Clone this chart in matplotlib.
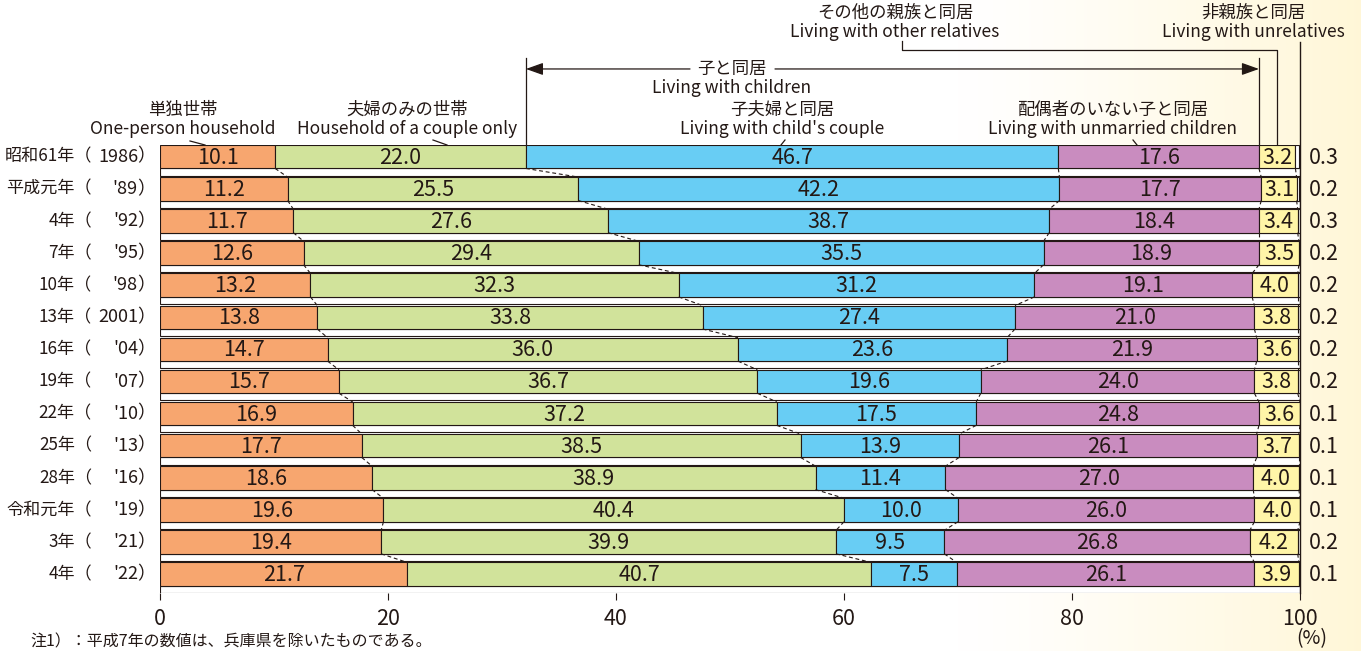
import numpy as np
import matplotlib.pyplot as plt

plt.rcParams['font.family'] = ['Noto Sans CJK JP', 'DejaVu Sans']

# data (%)
eras = ["昭和61年", "平成元年", "4年", "7年", "10年", "13年", "16年", "19年",
        "22年", "25年", "28年", "令和元年", "3年", "4年"]
years = ["1986", "'89", "'92", "'95", "'98", "2001", "'04", "'07",
         "'10", "'13", "'16", "'19", "'21", "'22"]
one_person = [10.1, 11.2, 11.7, 12.6, 13.2, 13.8, 14.7, 15.7, 16.9, 17.7, 18.6, 19.6, 19.4, 21.7]
couple_only = [22.0, 25.5, 27.6, 29.4, 32.3, 33.8, 36.0, 36.7, 37.2, 38.5, 38.9, 40.4, 39.9, 40.7]
child_couple = [46.7, 42.2, 38.7, 35.5, 31.2, 27.4, 23.6, 19.6, 17.5, 13.9, 11.4, 10.0, 9.5, 7.5]
unmarried_child = [17.6, 17.7, 18.4, 18.9, 19.1, 21.0, 21.9, 24.0, 24.8, 26.1, 27.0, 26.0, 26.8, 26.1]
other_relatives = [3.2, 3.1, 3.4, 3.5, 4.0, 3.8, 3.6, 3.8, 3.6, 3.7, 4.0, 4.0, 4.2, 3.9]
unrelatives = [0.3, 0.2, 0.3, 0.2, 0.2, 0.2, 0.2, 0.2, 0.1, 0.1, 0.1, 0.1, 0.2, 0.1]

segments = [one_person, couple_only, child_couple, unmarried_child, other_relatives, unrelatives]
colors = ['#F7A66F', '#D1E39B', '#68CDF4', '#C98CBF', '#FFF5A8', '#FFFFFF']
INK = '#231815'

W, H = 1361, 651
fig = plt.figure(figsize=(W / 100, H / 100), dpi=100)

# cream gradient on the right side
bg = fig.add_axes([0, 0, 1, 1], zorder=-1)
xs = np.linspace(0, W, 600)
w = np.clip((xs - 960) / (W - 960), 0, 1) ** 1.2
cream = np.array([1.0, 0.968, 0.845])
img = 1 - w[None, :, None] * (1 - cream)
bg.imshow(img, aspect='auto', extent=[0, 1, 0, 1])
bg.axis('off')

ax = fig.add_axes([160 / W, 1 - 593 / H, 1140 / W, 448 / H])
ax.set_facecolor('none')

BAR_H, ROW_H = 0.73, 0.95
rows = np.arange(len(eras))
data = np.array(segments).T
cum = np.cumsum(data, axis=1)
lefts = cum - data

def py(p):  # pixel row -> data y
    return (p - 145) / 32.1

def px(p):  # pixel column -> data x
    return (p - 160) / 11.4

# white strip under each bar
ax.barh(rows + BAR_H, 100, height=ROW_H - BAR_H, align='edge', color='white',
        edgecolor=INK, linewidth=0.8, zorder=2)

for k in range(6):
    ax.barh(rows, data[:, k], left=lefts[:, k], height=BAR_H, align='edge',
            color=colors[k], edgecolor=INK, linewidth=0.8, zorder=3)
    if k < 5:
        for i in rows:
            ax.text(lefts[i, k] + data[i, k] / 2, i + BAR_H / 2 + 0.03, f'{data[i, k]:.1f}',
                    ha='center', va='center', fontsize=15.5, color=INK, zorder=4)

# dashed connectors
for k in range(5):
    for i in rows[:-1]:
        ax.plot([cum[i, k], cum[i + 1, k]], [i + BAR_H, i + 1], color=INK,
                lw=0.8, ls=(0, (3.5, 2.5)), zorder=4, clip_on=False)

# unrelatives values at right
for i in rows:
    ax.text(px(1309), i + BAR_H / 2 + 0.03, f'{unrelatives[i]:.1f}', ha='left', va='center',
            fontsize=15.5, color=INK)

# row labels
for i in rows:
    y = i + BAR_H / 2
    ax.text(px(92), y, eras[i] + '（', ha='right', va='center', fontsize=12.3, color=INK)
    ax.text(px(138), y, years[i], ha='right', va='center', fontsize=13, color=INK)
    ax.text(px(137), y, '）', ha='left', va='center', fontsize=13, color=INK)

ax.set_xlim(0, 100)
ax.set_ylim(rows[-1] + ROW_H, 0)
for s in ax.spines.values():
    s.set_visible(False)
ax.set_yticks([])
ax.set_xticks([0, 20, 40, 60, 80, 100])
ax.tick_params(axis='x', direction='out', length=5, width=0.8, color=INK,
               labelsize=15.5, labelcolor=INK, pad=6)
ax.text(px(1312), py(638), '(%)', ha='center', va='center', fontsize=14, color=INK)

# annotations
def label(xc, y1, jp, en):
    ax.text(px(xc), py(y1), jp, ha='center', va='center', fontsize=12.5, color=INK)
    ax.text(px(xc), py(y1 + 19), en, ha='center', va='center', fontsize=12.5, color=INK)

def seg(x0, y0, x1, y1):
    ax.plot([px(x0), px(x1)], [py(y0), py(y1)], color=INK, lw=0.9, clip_on=False)

label(183, 110, '単独世帯', 'One-person household')
seg(190, 141, 205, 145)
label(407, 110, '夫婦のみの世帯', 'Household of a couple only')
seg(433, 140, 447, 145)
label(782, 110, '子夫婦と同居', "Living with child's couple")
seg(785, 140, 781, 145)
label(1113, 110, '配偶者のいない子と同居', 'Living with unmarried children')
seg(1133, 140, 1137, 145)

# living with children bracket
x_left = cum[0, 1]
x_right = cum[0, 3]
for xb in (x_left, x_right):
    ax.plot([xb, xb], [py(58), 0], color=INK, lw=0.9, clip_on=False)
ax.text(px(732), py(69), '子と同居', ha='center', va='center', fontsize=12.5, color=INK)
ax.text(px(732), py(88), 'Living with children', ha='center', va='center', fontsize=12.5, color=INK)
arrow = dict(arrowstyle='-|>,head_length=0.7,head_width=0.25', color=INK, lw=0.9,
             mutation_scale=15, shrinkA=0, shrinkB=0)
ax.annotate('', xy=(x_left, py(69)), xytext=(px(690), py(69)), arrowprops=arrow,
            annotation_clip=False)
ax.annotate('', xy=(x_right, py(69)), xytext=(px(775), py(69)), arrowprops=arrow,
            annotation_clip=False)

# other relatives
label(895, 13, 'その他の親族と同居', 'Living with other relatives')
x_oth = cum[0, 4] - other_relatives[0] / 2
ax.plot([px(902), px(902), x_oth, x_oth], [py(41), py(50), py(50), 0],
        color=INK, lw=0.9, clip_on=False)

# unrelatives
label(1253, 13, '非親族と同居', 'Living with unrelatives')
ax.plot([100, 100], [py(42), rows[-1] + ROW_H], color=INK, lw=1.0, clip_on=False, zorder=5)

fig.text(30 / W, 1 - 642 / H, '注1）：平成7年の数値は、兵庫県を除いたものである。',
         ha='left', va='center', fontsize=11.5, color=INK)

fig.savefig('out.png', dpi=100)
